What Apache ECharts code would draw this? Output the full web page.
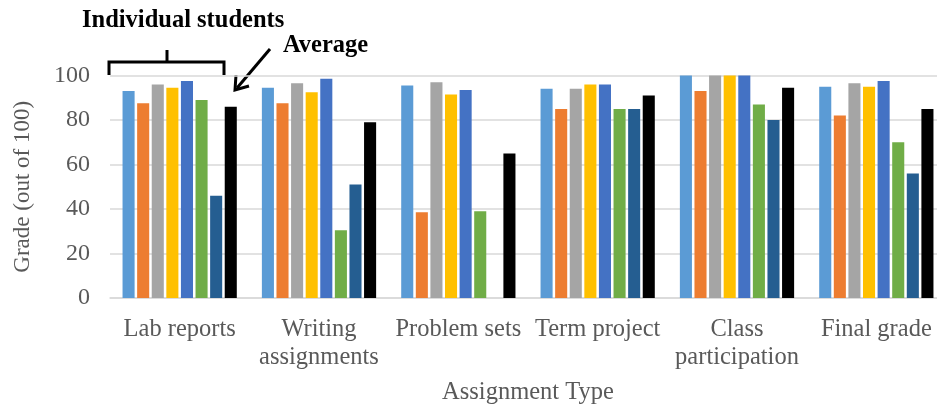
<!DOCTYPE html>
<html>
<head>
<meta charset="utf-8">
<script src="https://cdn.jsdelivr.net/npm/echarts@6/dist/echarts.min.js"></script>
<style>
  html, body { margin: 0; padding: 0; background: #fff; }
  #chart { width: 937px; height: 405px; }
</style>
</head>
<body>
<div id="chart"></div>
<script>
// Assignment categories on the x axis
const categories = ['Lab reports', 'Writing\nassignments', 'Problem sets', 'Term project', 'Class\nparticipation', 'Final grade'];

// Grades of the seven individual students, per assignment type
const student1 = [93, 94.5, 95.5, 94, 100, 95];
const student2 = [87.5, 87.5, 38.5, 85, 93, 82];
const student3 = [96, 96.5, 97, 94, 100, 96.5];
const student4 = [94.5, 92.5, 91.5, 96, 100, 95];
const student5 = [97.5, 98.5, 93.5, 96, 100, 97.5];
const student6 = [89, 30.5, 39, 85, 87, 70];
const student7 = [46, 51, null, 85, 80, 56];
// Class average
const average = [86, 79, 65, 91, 94.5, 85];

const yTicks = [0, 20, 40, 60, 80, 100];

const studentSeries = [student1, student2, student3, student4, student5, student6, student7];
const colors = ['#5B9BD5', '#ED7D31', '#A5A5A5', '#FFC000', '#4472C4', '#70AD47', '#255E91', '#000000'];

const serif = '"Liberation Serif", "Times New Roman", serif';

const series = studentSeries.concat([average]).map((data, i) => ({
  type: 'bar',
  name: i < 7 ? 'Student ' + (i + 1) : 'Average',
  data: data,
  barGap: '21%',
  barCategoryGap: '18%',
  itemStyle: { color: colors[i] },
  silent: true
}));

const chart = echarts.init(document.getElementById('chart'));
chart.setOption({
  animation: false,
  backgroundColor: '#fff',
  // the plot runs slightly past the right edge of the canvas
  grid: {
    left: 110, width: 836, top: 75.5, bottom: 107,
    containLabel: false, outerBoundsMode: 'none'
  },
  xAxis: {
    type: 'category',
    data: categories,
    axisLine: { show: true, lineStyle: { color: '#d9d9d9', width: 1.5 } },
    axisTick: { show: false },
    axisLabel: {
      color: '#595959', fontFamily: serif, fontSize: 24.5, lineHeight: 28,
      margin: 18, interval: 0
    },
    name: 'Assignment Type',
    nameLocation: 'middle',
    nameGap: 82,
    nameTextStyle: { color: '#595959', fontFamily: serif, fontSize: 24.5 }
  },
  yAxis: {
    type: 'value',
    min: yTicks[0],
    max: yTicks[yTicks.length - 1],
    interval: 20,
    axisLine: { show: false },
    axisTick: { show: false },
    splitLine: { lineStyle: { color: '#d9d9d9', width: 1.5 } },
    axisLabel: { color: '#595959', fontFamily: serif, fontSize: 24, margin: 20 },
    name: 'Grade (out of 100)',
    nameLocation: 'middle',
    nameGap: 76,
    nameTextStyle: { color: '#595959', fontFamily: serif, fontSize: 23 }
  },
  series: series,
  graphic: [
    {
      type: 'text', left: 82, top: 8,
      style: { text: 'Individual students', font: 'bold 24.5px ' + serif, fill: '#000' }
    },
    {
      type: 'text', left: 283, top: 33,
      style: { text: 'Average', font: 'bold 24.5px ' + serif, fill: '#000' }
    },
    {
      // bracket over the individual student bars
      type: 'polyline',
      shape: { points: [[109, 75], [109, 62], [224, 62], [224, 75]] },
      style: { stroke: '#000', lineWidth: 3, fill: null }
    },
    {
      type: 'line',
      shape: { x1: 167, y1: 50, x2: 167, y2: 62 },
      style: { stroke: '#000', lineWidth: 3 }
    },
    {
      // arrow pointing at the average bar
      type: 'line',
      shape: { x1: 270, y1: 49, x2: 237, y2: 88 },
      style: { stroke: '#000', lineWidth: 3 }
    },
    {
      type: 'polyline',
      shape: { points: [[236, 75], [235, 90], [249, 86]] },
      style: { stroke: '#000', lineWidth: 3, fill: null }
    }
  ]
});
</script>
</body>
</html>
